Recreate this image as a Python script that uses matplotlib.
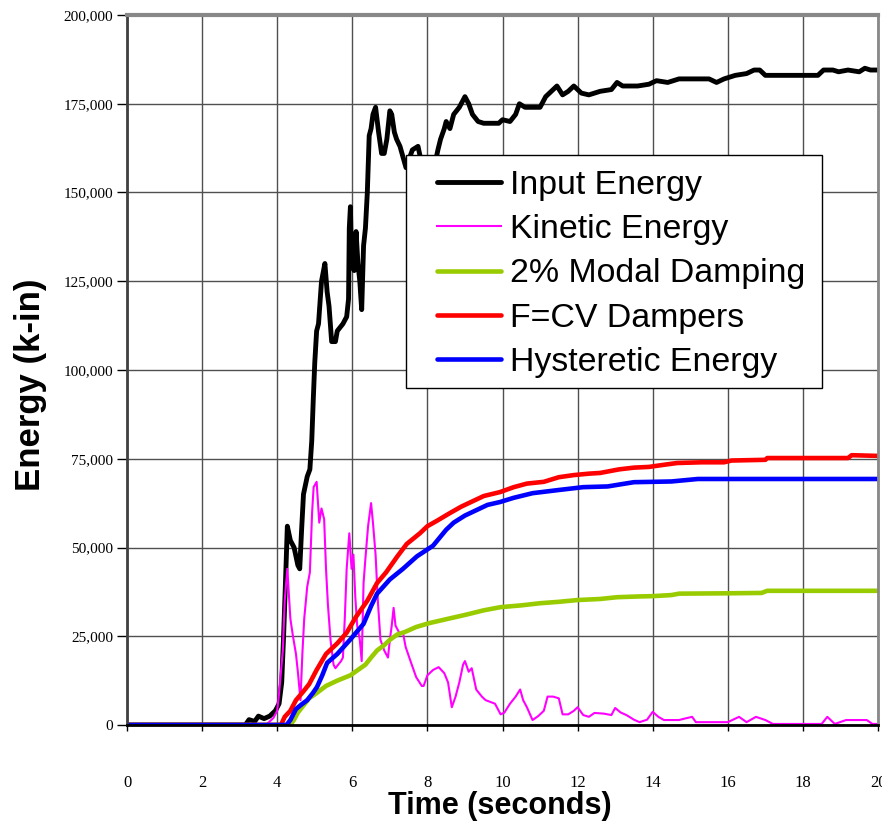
#!/usr/bin/env python3
"""Energy time history: input, kinetic, damping and hysteretic energy."""

import matplotlib

matplotlib.use("Agg")
import matplotlib.pyplot as plt
from matplotlib.patches import Rectangle

# Time (s) and cumulative energy (k-in) for each component
input_t = [0, 3.15, 3.25, 3.4, 3.5, 3.65, 3.8, 3.95, 4.05, 4.12, 4.17, 4.22, 4.27, 4.35,
           4.45, 4.55, 4.6, 4.65, 4.7, 4.8, 4.87, 4.92, 4.96, 5.0, 5.05, 5.1, 5.18, 5.27,
           5.33, 5.38, 5.45, 5.55, 5.6, 5.75, 5.85, 5.9, 5.92, 5.95, 5.98, 6.05, 6.1, 6.15,
           6.2, 6.25, 6.3, 6.35, 6.4, 6.45, 6.5, 6.55, 6.62, 6.7, 6.78, 6.85, 6.92, 7.0,
           7.05, 7.12, 7.18, 7.27, 7.35, 7.43, 7.6, 7.75, 7.85, 8.0, 8.2, 8.28, 8.35, 8.45,
           8.5, 8.6, 8.7, 8.85, 9.0, 9.1, 9.2, 9.35, 9.5, 9.9, 10.0, 10.2, 10.35, 10.45,
           10.6, 11.0, 11.15, 11.3, 11.45, 11.6, 11.75, 11.9, 12.1, 12.3, 12.6, 12.9, 13.05,
           13.2, 13.6, 13.9, 14.1, 14.4, 14.7, 15.5, 15.7, 15.9, 16.2, 16.5, 16.7, 16.85,
           17.0, 18.4, 18.55, 18.8, 18.95, 19.2, 19.5, 19.65, 19.8, 20.0]
input_e = [0, 0, 1500, 1000, 2500, 1800, 2500, 4000, 6000, 12000, 25000, 40000, 56000, 52000,
           50000, 45000, 44000, 55000, 65000, 70000, 72000, 80000, 91500, 102000, 111000,
           113000, 125000, 130000, 122000, 118000, 108000, 108000, 111000, 113000, 115000,
           120000, 140000, 146000, 130000, 128000, 139000, 130000, 125000, 117000, 135000,
           140000, 150000, 166000, 168000, 172000, 174000, 167000, 161000, 161000, 165000,
           173000, 172000, 167000, 165000, 163000, 160000, 157000, 162000, 163000, 158000,
           155000, 158000, 162000, 165000, 168000, 170000, 168000, 172000, 174000, 177000,
           175000, 172000, 170000, 169500, 169500, 170500, 170000, 172000, 175000, 174000,
           174000, 177000, 178500, 180000, 177500, 178500, 180000, 178000, 177500, 178500,
           179000, 181000, 180000, 180000, 180500, 181500, 181000, 182000, 182000, 181000,
           182000, 183000, 183500, 184500, 184500, 183000, 183000, 184500, 184500, 184000,
           184500, 184000, 185000, 184500, 184500]

kinetic_t = [0, 3.7, 3.8, 3.9, 4.0, 4.05, 4.1, 4.15, 4.2, 4.27, 4.35, 4.42, 4.5, 4.55, 4.62,
             4.67, 4.72, 4.8, 4.87, 4.93, 4.97, 5.05, 5.12, 5.18, 5.25, 5.3, 5.35, 5.42, 5.5,
             5.55, 5.7, 5.75, 5.8, 5.85, 5.92, 5.98, 6.03, 6.08, 6.13, 6.2, 6.25, 6.3, 6.35,
             6.42, 6.5, 6.55, 6.62, 6.68, 6.75, 6.85, 6.95, 7.0, 7.05, 7.1, 7.15, 7.25, 7.35,
             7.42, 7.55, 7.7, 7.85, 7.9, 8.0, 8.15, 8.3, 8.45, 8.55, 8.65, 8.75, 8.85, 8.95,
             9.0, 9.1, 9.18, 9.3, 9.45, 9.55, 9.8, 9.95, 10.05, 10.2, 10.35, 10.47, 10.55,
             10.65, 10.8, 10.95, 11.1, 11.2, 11.35, 11.5, 11.6, 11.75, 11.9, 12.0, 12.15,
             12.3, 12.45, 12.7, 12.9, 13.0, 13.15, 13.3, 13.5, 13.65, 13.85, 14.0, 14.15,
             14.3, 14.7, 14.85, 15.05, 15.15, 16.0, 16.3, 16.5, 16.75, 17.0, 17.2, 18.5,
             18.65, 18.85, 19.15, 19.45, 19.7, 19.85, 20.0]
kinetic_e = [0, 0, 1000, 2000, 4000, 9000, 15000, 21000, 35000, 44000, 30000, 25000, 20000,
             15000, 7000, 20000, 30000, 39000, 43000, 60000, 67000, 68500, 57000, 61000,
             58000, 44000, 34000, 24000, 17000, 16000, 18000, 19000, 30000, 44000, 54000,
             44000, 48000, 36000, 28000, 24000, 18000, 40000, 47000, 56000, 62500, 57000,
             48000, 35000, 24000, 21000, 19000, 24000, 28000, 33000, 28000, 26000, 26000,
             22000, 18000, 13500, 11000, 11000, 14000, 15500, 16300, 14600, 12000, 5000,
             8000, 12000, 17000, 18000, 15000, 16000, 10000, 8000, 7000, 6000, 3000, 3500,
             6000, 8000, 10000, 7000, 5000, 1400, 2500, 4000, 8000, 8000, 7500, 3000, 3000,
             4000, 5000, 2800, 2300, 3400, 3200, 2800, 4800, 3500, 2800, 1500, 800, 1500,
             3700, 2300, 1400, 1400, 1800, 2300, 800, 800, 2300, 800, 2300, 1400, 300, 300,
             2300, 300, 1400, 1400, 1400, 300, 300]

modal_t = [0, 4.35, 4.45, 4.55, 4.7, 4.85, 5.05, 5.3, 5.6, 5.95, 6.15, 6.35, 6.5, 6.66, 6.85,
           7.0, 7.2, 7.4, 7.7, 8.05, 8.5, 9.0, 9.5, 9.95, 10.5, 11.0, 11.5, 12.0, 12.6,
           13.05, 13.6, 14.0, 14.5, 14.7, 16.0, 16.9, 17.05, 20.0]
modal_e = [0, 0, 1500, 3500, 5500, 7500, 9000, 11000, 12500, 14000, 15500, 17000, 19000,
           21000, 22500, 24000, 25500, 26200, 27600, 28700, 29800, 31000, 32300, 33200,
           33700, 34300, 34700, 35200, 35500, 36000, 36200, 36300, 36600, 37000, 37100,
           37200, 37800, 37800]

damper_t = [0, 4.1, 4.2, 4.35, 4.5, 4.7, 4.85, 5.05, 5.3, 5.6, 5.85, 6.1, 6.4, 6.66, 6.9,
            7.2, 7.45, 7.8, 8.0, 8.25, 8.6, 8.9, 9.2, 9.5, 9.93, 10.3, 10.65, 11.1, 11.5,
            11.9, 12.3, 12.6, 13.1, 13.5, 13.9, 14.3, 14.65, 15.3, 15.9, 16.1, 17.0, 17.05,
            19.2, 19.3, 20.0]
damper_e = [0, 0, 2300, 4000, 7000, 9500, 11500, 15500, 20000, 23000, 26000, 30500, 35000,
            40000, 43000, 47500, 51000, 54000, 56000, 57500, 59700, 61500, 63000, 64500,
            65600, 67000, 68000, 68500, 69800, 70400, 70800, 71000, 72000, 72500, 72700,
            73300, 73800, 74000, 74000, 74500, 74700, 75200, 75200, 76000, 75800]

hyst_t = [0, 4.25, 4.35, 4.5, 4.65, 4.8, 4.95, 5.06, 5.2, 5.33, 5.6, 5.94, 6.3, 6.5, 6.66,
          7.0, 7.35, 7.72, 8.15, 8.5, 8.7, 9.0, 9.3, 9.6, 9.93, 10.3, 10.8, 11.5, 12.15,
          12.8, 13.5, 14.5, 15.2, 20.0]
hyst_e = [0, 0, 1400, 4500, 5800, 7000, 9000, 10700, 14000, 17500, 20000, 24000, 28500,
          33500, 37000, 41000, 44000, 47500, 50500, 55000, 57000, 59000, 60500, 62000,
          62800, 64000, 65300, 66200, 67000, 67200, 68400, 68600, 69300, 69300]

x_ticks = list(range(0, 21, 2))
y_ticks = list(range(0, 200001, 25000))


def main() -> None:
    fig = plt.figure(figsize=(8.82, 8.21), dpi=100)
    ax = fig.add_axes([127 / 882, 1 - 725 / 821, 751 / 882, 710 / 821])

    ax.plot(input_t, input_e, color="black", lw=3.5, label="Input Energy",
            solid_joinstyle="round", solid_capstyle="round")
    ax.plot(kinetic_t, kinetic_e, color="#ff00ff", lw=1.5, label="Kinetic Energy")
    ax.plot(modal_t, modal_e, color="#99cc00", lw=3.3, label="2% Modal Damping",
            solid_capstyle="round")
    ax.plot(damper_t, damper_e, color="#ff0000", lw=3.3, label="F=CV Dampers",
            solid_capstyle="round")
    ax.plot(hyst_t, hyst_e, color="#0000ff", lw=3.3, label="Hysteretic Energy",
            solid_capstyle="round")

    ax.set_xlim(0, 20)
    ax.set_ylim(0, 200000)
    ax.set_xticks(x_ticks)
    ax.set_yticks(y_ticks)
    ax.set_xticklabels([str(v) for v in x_ticks], family="Liberation Serif", fontsize=12)
    ax.set_yticklabels([f"{v:,}" for v in y_ticks], family="Liberation Serif", fontsize=11)
    ax.tick_params(axis="x", direction="out", length=4, width=1, pad=32)
    ax.tick_params(axis="y", direction="out", length=7, width=1, pad=3)
    ax.grid(True, color="#505050", lw=1.0)
    ax.set_axisbelow(True)

    ax.spines["top"].set_color("#888888")
    ax.spines["top"].set_linewidth(3)
    ax.spines["right"].set_color("#888888")
    ax.spines["right"].set_linewidth(2)
    ax.spines["left"].set_color("#404040")
    ax.spines["left"].set_linewidth(2)
    ax.spines["bottom"].set_color("black")
    ax.spines["bottom"].set_linewidth(2)

    ax.set_xlabel("Time (seconds)", family="Liberation Sans", fontweight="bold",
                  fontsize=22, va="center")
    ax.xaxis.set_label_coords(0.497, -0.114)
    ax.set_ylabel("Energy (k-in)", family="Liberation Sans", fontweight="bold",
                  fontsize=25, va="center")
    ax.yaxis.set_label_coords(-0.128, 0.479)

    # legend box drawn separately so its padding can be set on each side
    ax.add_patch(Rectangle((406 / 882, 1 - 388 / 821), 416 / 882, 233 / 821,
                           transform=fig.transFigure, facecolor="white",
                           edgecolor="black", lw=1.0, zorder=4, clip_on=False))
    leg = ax.legend(loc="upper left", bbox_to_anchor=(437 / 882, 1 - 170 / 821),
                    bbox_transform=fig.transFigure, borderaxespad=0, borderpad=0,
                    prop={"family": "Liberation Sans", "size": 24.4},
                    handlelength=1.9, handletextpad=0.25, labelspacing=0.39,
                    frameon=False)
    leg.set_zorder(5)

    fig.savefig("out.png", dpi=100)
    plt.close(fig)


if __name__ == "__main__":
    main()
